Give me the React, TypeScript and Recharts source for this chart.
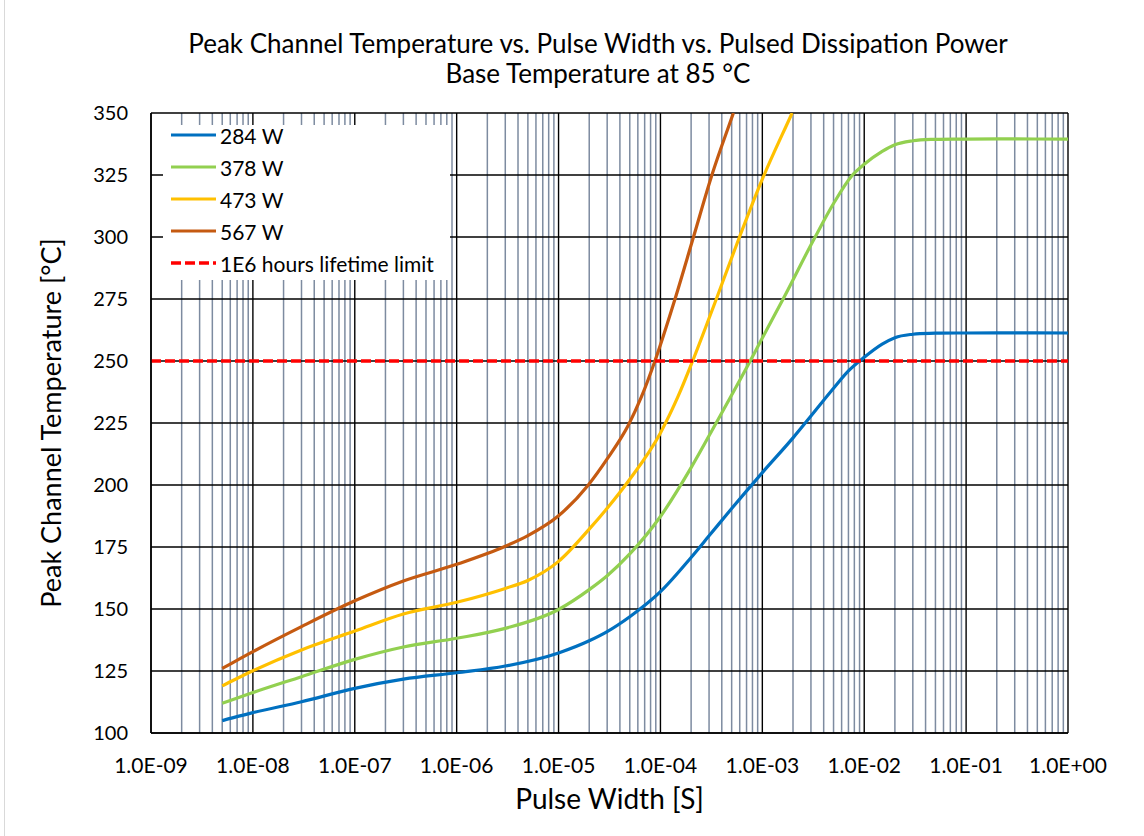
import React from 'react';
import { LineChart, Line, XAxis, YAxis, CartesianGrid } from 'recharts';

// ---------- data ----------
const decades = [1e-9, 1e-8, 1e-7, 1e-6, 1e-5, 1e-4, 1e-3, 1e-2, 1e-1, 1];
const decadeLabels = ['1.0E-09', '1.0E-08', '1.0E-07', '1.0E-06', '1.0E-05', '1.0E-04', '1.0E-03', '1.0E-02', '1.0E-01', '1.0E+00'];
const minorMultipliers = [2, 3, 4, 5, 6, 7, 8, 9];
const yTicks = [100, 125, 150, 175, 200, 225, 250, 275, 300, 325, 350];

const p284 = [
  { x: 5e-9, y: 105 }, { x: 1e-8, y: 108.2 }, { x: 3e-8, y: 112.6 }, { x: 1e-7, y: 118 },
  { x: 3e-7, y: 121.7 }, { x: 1e-6, y: 124.3 }, { x: 3e-6, y: 127 }, { x: 1e-5, y: 132.3 },
  { x: 2e-5, y: 137.2 }, { x: 3e-5, y: 140.9 }, { x: 5e-5, y: 146.9 }, { x: 1e-4, y: 157 },
  { x: 2e-4, y: 170.8 }, { x: 3e-4, y: 179.5 }, { x: 5e-4, y: 190.5 }, { x: 1e-3, y: 205 },
  { x: 2e-3, y: 219 }, { x: 3e-3, y: 227.8 }, { x: 5e-3, y: 239 }, { x: 7e-3, y: 246 },
  { x: 1e-2, y: 251.5 }, { x: 1.5e-2, y: 256.8 }, { x: 2e-2, y: 259.4 }, { x: 3e-2, y: 260.8 },
  { x: 5e-2, y: 261.2 }, { x: 1e-1, y: 261.3 }, { x: 1, y: 261.3 },
];

const p378 = [
  { x: 5e-9, y: 112 }, { x: 1e-8, y: 116.3 }, { x: 3e-8, y: 122.7 }, { x: 1e-7, y: 129.7 },
  { x: 3e-7, y: 134.7 }, { x: 1e-6, y: 138.2 }, { x: 3e-6, y: 142.2 }, { x: 1e-5, y: 149.8 },
  { x: 2e-5, y: 157.8 }, { x: 3e-5, y: 163.4 }, { x: 5e-5, y: 172.2 }, { x: 1e-4, y: 187.3 },
  { x: 2e-4, y: 207 }, { x: 3.5e-4, y: 224.8 }, { x: 7.6e-4, y: 250 }, { x: 1e-3, y: 259.3 },
  { x: 1.6e-3, y: 275 }, { x: 3.2e-3, y: 299 }, { x: 5e-3, y: 313.5 }, { x: 7.5e-3, y: 324.5 },
  { x: 1e-2, y: 329.3 }, { x: 1.5e-2, y: 334.5 }, { x: 2e-2, y: 337.2 }, { x: 3e-2, y: 338.8 },
  { x: 5e-2, y: 339.4 }, { x: 1e-1, y: 339.5 }, { x: 1, y: 339.5 },
];

const p473 = [
  { x: 5e-9, y: 119 }, { x: 1e-8, y: 125.1 }, { x: 3e-8, y: 133.5 }, { x: 1e-7, y: 141.1 },
  { x: 3e-7, y: 148 }, { x: 1e-6, y: 152.7 }, { x: 3e-6, y: 158.3 }, { x: 5e-6, y: 161.5 },
  { x: 1e-5, y: 169.2 }, { x: 2e-5, y: 182.2 }, { x: 3e-5, y: 190.6 }, { x: 5e-5, y: 202.3 },
  { x: 1e-4, y: 221 }, { x: 1.5e-4, y: 236 }, { x: 2.07e-4, y: 250 }, { x: 3.5e-4, y: 274.5 },
  { x: 5.6e-4, y: 297 }, { x: 1e-3, y: 323.3 }, { x: 1.96e-3, y: 350 },
];

const p567 = [
  { x: 5e-9, y: 126 }, { x: 1e-8, y: 132.8 }, { x: 3e-8, y: 142.9 }, { x: 1e-7, y: 153.3 },
  { x: 3e-7, y: 161.3 }, { x: 1e-6, y: 168 }, { x: 3e-6, y: 175.3 }, { x: 5e-6, y: 179.6 },
  { x: 1e-5, y: 187.6 }, { x: 1.96e-5, y: 200 }, { x: 3e-5, y: 210.5 }, { x: 4.85e-5, y: 224.2 },
  { x: 6.5e-5, y: 235.5 }, { x: 8.83e-5, y: 250 }, { x: 1.39e-4, y: 275 }, { x: 2.11e-4, y: 300 },
  { x: 3.2e-4, y: 325 }, { x: 5.2e-4, y: 350 },
];

const lifetimeLimit = [{ x: 1e-9, y: 250 }, { x: 1, y: 250 }];

const seriesNames = ['284 W', '378 W', '473 W', '567 W', '1E6 hours lifetime limit'];
const seriesColors = ['#0070C0', '#92D050', '#FFC000', '#C55A11', '#FF0000'];
const seriesData = [p284, p378, p473, p567, lifetimeLimit];
const seriesDashed = [false, false, false, false, true];

const minorGrid = decades.slice(0, -1).flatMap((d) => minorMultipliers.map((m) => m * d));

// ---------- smooth curve (cubic Hermite with 3-point tangents, like a spreadsheet "smoothed line") ----------
function smoothCurve(context: any) {
  let xs: number[] = [];
  let ys: number[] = [];
  return {
    areaStart() {},
    areaEnd() {},
    lineStart() {
      xs = [];
      ys = [];
    },
    point(x: number, y: number) {
      xs.push(+x);
      ys.push(+y);
    },
    lineEnd() {
      const n = xs.length;
      if (!n) return;
      context.moveTo(xs[0], ys[0]);
      if (n === 1) return;
      if (n === 2) {
        context.lineTo(xs[1], ys[1]);
        return;
      }
      const m: number[] = new Array(n);
      for (let i = 0; i < n; i++) {
        if (i === 0) m[i] = (ys[1] - ys[0]) / (xs[1] - xs[0]);
        else if (i === n - 1) m[i] = (ys[n - 1] - ys[n - 2]) / (xs[n - 1] - xs[n - 2]);
        else {
          const h0 = xs[i] - xs[i - 1];
          const h1 = xs[i + 1] - xs[i];
          const s0 = (ys[i] - ys[i - 1]) / h0;
          const s1 = (ys[i + 1] - ys[i]) / h1;
          m[i] = (s0 * h1 + s1 * h0) / (h0 + h1);
        }
      }
      for (let i = 0; i < n - 1; i++) {
        const h = xs[i + 1] - xs[i];
        context.bezierCurveTo(
          xs[i] + h / 3,
          ys[i] + (m[i] * h) / 3,
          xs[i + 1] - h / 3,
          ys[i + 1] - (m[i + 1] * h) / 3,
          xs[i + 1],
          ys[i + 1],
        );
      }
    },
  };
}

// ---------- layout ----------
const W = 1144;
const H = 836;
const FONT = 'Lato, "Open Sans", sans-serif';

const xFmt = (v: number) => {
  const i = decades.findIndex((d) => Math.abs(Math.log10(d) - Math.log10(v)) < 1e-6);
  return i >= 0 ? decadeLabels[i] : '';
};

const YLabel = (props: any) => {
  const vb = props.viewBox || { x: 0, y: 0, width: 0, height: 0 };
  const cx = vb.x + 50;
  const cy = vb.y + vb.height / 2;
  return (
    <text
      x={cx}
      y={cy}
      transform={`rotate(-90, ${cx}, ${cy})`}
      textAnchor="middle"
      dominantBaseline="central"
      fontSize={27}
      fill="#000"
      fontFamily={FONT}
    >
      Peak Channel Temperature [°C]
    </text>
  );
};

export default function App() {
  return (
    <div
      style={{
        position: 'absolute',
        left: 0,
        top: 0,
        width: W,
        height: H,
        background: '#fff',
        fontFamily: FONT,
        overflow: 'hidden',
      }}
    >
      <div style={{ position: 'absolute', left: 4, top: 0, width: 1, height: H, background: '#d9d9d9' }} />
      <div
        style={{
          position: 'absolute',
          left: 98,
          top: 28,
          width: 1000,
          textAlign: 'center',
          fontSize: 26,
          lineHeight: '30px',
          color: '#000',
        }}
      >
        <div>Peak Channel Temperature vs. Pulse Width vs. Pulsed Dissipation Power</div>
        <div>Base Temperature at 85 °C</div>
      </div>

      <LineChart width={W} height={H} margin={{ top: 113, right: 76, bottom: 0, left: 0 }}>
        <XAxis
          dataKey="x"
          type="number"
          scale="log"
          domain={[1e-9, 1]}
          ticks={decades}
          allowDataOverflow
          interval={0}
          tickFormatter={xFmt}
          tickSize={0}
          tickMargin={25}
          height={103}
          axisLine={{ stroke: '#000', strokeWidth: 1.5 }}
          tick={{ fill: '#000', fontSize: 21, fontFamily: FONT }}
          label={{ value: 'Pulse Width [S]', position: 'insideBottom', offset: 27, fill: '#000', fontSize: 28, fontFamily: FONT }}
        />
        <YAxis
          type="number"
          domain={[100, 350]}
          ticks={yTicks}
          allowDataOverflow
          interval={0}
          width={151}
          tickSize={0}
          tickMargin={23}
          axisLine={{ stroke: '#000', strokeWidth: 1.5 }}
          tick={{ fill: '#000', fontSize: 20, fontFamily: FONT }}
          label={{ content: YLabel }}
        />
        <CartesianGrid horizontal={false} verticalValues={minorGrid} stroke="#7d8ba0" strokeWidth={1.5} />
        <CartesianGrid stroke="#000" strokeWidth={1.4} />
        {seriesData.map((d, i) => (
          <Line
            key={seriesNames[i]}
            data={d}
            dataKey="y"
            name={seriesNames[i]}
            type={(seriesDashed[i] ? 'linear' : smoothCurve) as any}
            stroke={seriesColors[i]}
            strokeWidth={seriesDashed[i] ? 3.5 : 3.2}
            strokeDasharray={seriesDashed[i] ? '10 4' : undefined}
            dot={false}
            activeDot={false}
            isAnimationActive={false}
          />
        ))}
      </LineChart>

      <div style={{ position: 'absolute', left: 163, top: 125, width: 287, height: 155, background: '#fff' }} />
      {seriesNames.map((n, i) => (
        <div
          key={n}
          style={{
            position: 'absolute',
            left: 171,
            top: 119 + i * 32.1,
            height: 32,
            display: 'flex',
            alignItems: 'center',
            fontSize: 21,
            color: '#000',
            whiteSpace: 'nowrap',
          }}
        >
          <svg width={49} height={8} style={{ display: 'block' }}>
            <line
              x1={0}
              y1={4}
              x2={45}
              y2={4}
              stroke={seriesColors[i]}
              strokeWidth={seriesDashed[i] ? 3.5 : 3.2}
              strokeDasharray={seriesDashed[i] ? '10 4' : undefined}
            />
          </svg>
          <span>{n}</span>
        </div>
      ))}
    </div>
  );
}
